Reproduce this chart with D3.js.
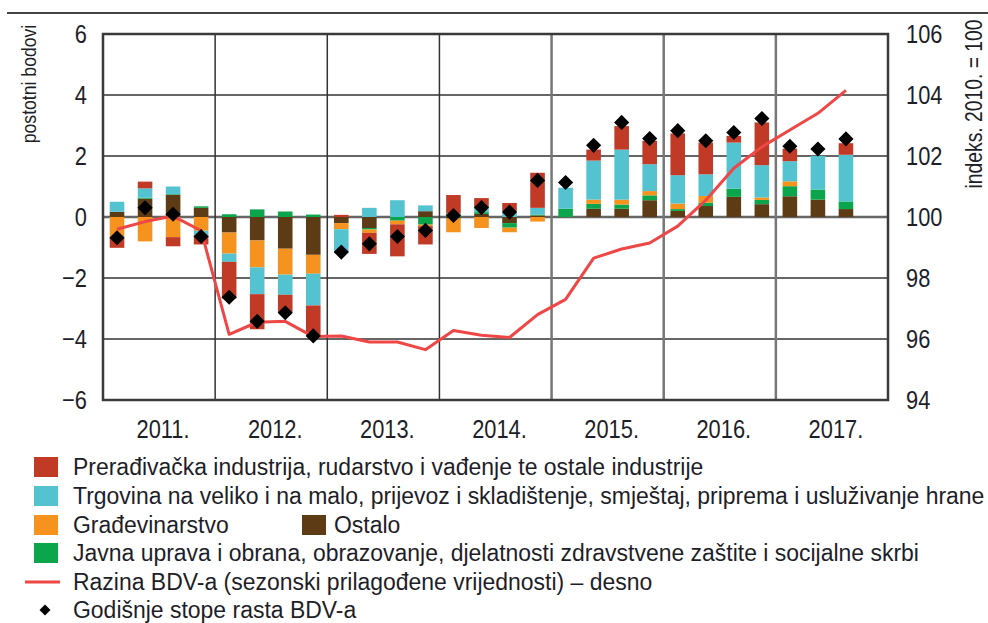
<!DOCTYPE html>
<html>
<head>
<meta charset="utf-8">
<script src="https://cdn.jsdelivr.net/npm/d3@7"></script>
<style>
	body { margin: 0; background: #fff; }
	text { font-family: "Liberation Sans Narrow", "Arial Narrow", "Liberation Sans", Arial, sans-serif; fill: #1e1e28; }
</style>
</head>
<body>
<div id="wrapper"></div>
<script>

// 1. Data

const years = ["2011.", "2012.", "2013.", "2014.", "2015.", "2016.", "2017."];

const preradivacka = [-0.33, 0.22, -0.30, -0.30, -1.20, -1.15, -0.57, -0.99, 0.07, -0.69, -1.05, -0.60, 0.60, 0.30, 0.26, 1.15, 0.00, 0.36, 0.77, 0.77, 1.37, 1.04, 0.22, 1.40, 0.41, 0.00, 0.38];
const trgovina = [0.33, 0.31, 0.25, -0.15, -0.27, -0.88, -0.66, -1.04, -0.79, 0.30, 0.55, 0.19, 0.00, 0.16, 0.20, 0.22, 0.69, 1.28, 1.64, 0.88, 0.93, 0.71, 1.51, 1.06, 0.66, 1.10, 1.53];
const gradevinarstvo = [-0.68, -0.80, -0.66, -0.45, -0.69, -0.88, -0.85, -0.62, -0.20, -0.11, -0.12, -0.05, -0.45, -0.36, -0.15, -0.15, 0.00, 0.14, 0.16, 0.14, 0.18, 0.22, 0.00, 0.08, 0.16, 0.00, 0.00];
const ostalo = [0.17, 0.60, 0.73, 0.30, -0.51, -0.77, -1.04, -1.24, -0.20, -0.36, 0.00, 0.19, -0.05, 0.10, -0.20, 0.05, 0.00, 0.27, 0.27, 0.55, 0.20, 0.36, 0.66, 0.42, 0.68, 0.57, 0.26];
const javna = [0.00, 0.03, 0.02, 0.05, 0.09, 0.25, 0.18, 0.08, 0.00, -0.05, -0.12, -0.25, 0.12, 0.06, -0.15, 0.03, 0.27, 0.16, 0.14, 0.16, 0.06, 0.11, 0.27, 0.14, 0.33, 0.33, 0.25];

// godisnje stope rasta BDV-a (romb), lijeva os
const stopeRasta = [-0.68, 0.30, 0.09, -0.64, -2.63, -3.42, -3.14, -3.90, -1.15, -0.88, -0.64, -0.44, 0.05, 0.31, 0.16, 1.20, 1.13, 2.35, 3.10, 2.57, 2.83, 2.50, 2.77, 3.23, 2.32, 2.23, 2.56];

// razina BDV-a, indeks 2010. = 100, desna os
const razinaBDV = [99.60, 99.85, 100.03, 99.55, 96.15, 96.55, 96.58, 96.08, 96.10, 95.90, 95.90, 95.65, 96.28, 96.12, 96.05, 96.80, 97.30, 98.65, 98.95, 99.15, 99.70, 100.55, 101.60, 102.30, 102.85, 103.40, 104.15];

const leftTicks = [-6, -4, -2, 0, 2, 4, 6];
const rightTicks = [94, 96, 98, 100, 102, 104, 106];

const legendLabels = {
	preradivacka: "Prerađivačka industrija, rudarstvo i vađenje te ostale industrije",
	trgovina: "Trgovina na veliko i na malo, prijevoz i skladištenje, smještaj, priprema i usluživanje hrane",
	gradevinarstvo: "Građevinarstvo",
	ostalo: "Ostalo",
	javna: "Javna uprava i obrana, obrazovanje, djelatnosti zdravstvene zaštite i socijalne skrbi",
	line: "Razina BDV-a (sezonski prilagođene vrijednosti) – desno",
	diamond: "Godišnje stope rasta BDV-a"
};

const colors = {
	preradivacka: "#c13a26",
	trgovina: "#52c3cf",
	gradevinarstvo: "#f6921e",
	ostalo: "#5c3b15",
	javna: "#0ba54b"
};

// 2. Dimensions

const dimensions = {
	width: 988,
	height: 623,
	left: 103,
	right: 888,
	top: 34,
	bottom: 400
};

// no narrow font installed, so squeeze the regular one
const narrow = 0.84;

// 3. Rows / scales

const quarters = years.flatMap(y => ["Q1", "Q2", "Q3", "Q4"].map(q => y + q));
const rows = preradivacka.map((d, i) => ({
	q: quarters[i],
	preradivacka: preradivacka[i],
	trgovina: trgovina[i],
	gradevinarstvo: gradevinarstvo[i],
	ostalo: ostalo[i],
	javna: javna[i],
	rast: stopeRasta[i],
	razina: razinaBDV[i]
}));

const keys = ["ostalo", "javna", "gradevinarstvo", "trgovina", "preradivacka"];
const series = d3.stack().keys(keys).offset(d3.stackOffsetDiverging)(rows);

const x = d3.scaleBand()
	.domain(quarters)
	.range([dimensions.left, dimensions.right])
	.padding(0);
const xYear = d3.scaleBand()
	.domain(years)
	.range([dimensions.left, dimensions.right]);
const y = d3.scaleLinear().domain([-6, 6]).range([dimensions.bottom, dimensions.top]);
const y2 = d3.scaleLinear().domain([94, 106]).range([dimensions.bottom, dimensions.top]);

const barW = x.bandwidth() * 0.52;
const cx = d => x(d) + x.bandwidth() / 2;

// 4. Static elements

const svg = d3.select("#wrapper")
	.append("svg")
	.attr("width", dimensions.width)
	.attr("height", dimensions.height);

svg.append("line")
	.attr("x1", 7).attr("x2", 988)
	.attr("y1", 13).attr("y2", 13)
	.style("stroke", "#444")
	.style("stroke-width", 2);

// grid
svg.append("g")
	.selectAll("line")
	.data(leftTicks)
	.join("line")
	.attr("x1", dimensions.left).attr("x2", dimensions.right)
	.attr("y1", d => y(d)).attr("y2", d => y(d))
	.style("stroke", d => d === 0 ? "#666" : "#333")
	.style("stroke-width", d => d === 0 ? 2.5 : 1.5);

svg.append("g")
	.selectAll("line")
	.data(years.slice(1))
	.join("line")
	.attr("x1", d => xYear(d)).attr("x2", d => xYear(d))
	.attr("y1", dimensions.top).attr("y2", dimensions.bottom)
	.style("stroke", (d, i) => i < 3 ? "#333" : "#777")
	.style("stroke-width", (d, i) => i < 3 ? 1.5 : 2.5);

// bars
svg.append("g")
	.selectAll("g")
	.data(series)
	.join("g")
	.style("fill", d => colors[d.key])
	.selectAll("rect")
	.data(d => d)
	.join("rect")
	.attr("x", d => cx(d.data.q) - barW / 2)
	.attr("width", barW)
	.attr("y", d => y(Math.max(d[0], d[1])))
	.attr("height", d => Math.abs(y(d[0]) - y(d[1])));

// frame
svg.append("rect")
	.attr("x", dimensions.left).attr("y", dimensions.top)
	.attr("width", dimensions.right - dimensions.left)
	.attr("height", dimensions.bottom - dimensions.top)
	.style("fill", "none")
	.style("stroke", "#3a3a3a")
	.style("stroke-width", 2.5);

// line
const line = d3.line()
	.x(d => cx(d.q))
	.y(d => y2(d.razina));

svg.append("path")
	.datum(rows)
	.attr("d", line)
	.style("fill", "none")
	.style("stroke", "#ef4646")
	.style("stroke-width", 3)
	.style("stroke-linejoin", "round");

// diamonds
const diamond = d3.symbol(d3.symbolSquare, 115);
svg.append("g")
	.selectAll("path")
	.data(rows)
	.join("path")
	.attr("d", diamond)
	.attr("transform", d => `translate(${cx(d.q)},${y(d.rast)}) rotate(45)`)
	.style("fill", "#000");

// axes labels
svg.append("g")
	.selectAll("text")
	.data(leftTicks)
	.join("text")
	.attr("transform", d => `translate(87,${y(d) + 9}) scale(${narrow},1)`)
	.style("text-anchor", "end")
	.style("font-size", "26px")
	.text(d => d < 0 ? "\u2212" + Math.abs(d) : d);

svg.append("g")
	.selectAll("text")
	.data(rightTicks)
	.join("text")
	.attr("transform", d => `translate(906,${y2(d) + 9}) scale(${narrow},1)`)
	.style("font-size", "26px")
	.text(d => d);

svg.append("g")
	.selectAll("text")
	.data(years)
	.join("text")
	.attr("transform", d => `translate(${xYear(d) + xYear.bandwidth() / 2 + 4},438) scale(${narrow},1)`)
	.style("text-anchor", "middle")
	.style("font-size", "26px")
	.text(d => d);

svg.append("text")
	.attr("transform", `translate(36,84) rotate(-90) scale(${narrow},1)`)
	.style("text-anchor", "middle")
	.style("font-size", "21px")
	.text("postotni bodovi");

svg.append("text")
	.attr("transform", `translate(982,104) rotate(-90) scale(${narrow},1)`)
	.style("text-anchor", "middle")
	.style("font-size", "23px")
	.text("indeks. 2010. = 100");

// 5. Legend

const legend = svg.append("g");
const rowsY = [467, 496, 525, 553, 582, 610];

const swatches = [
	{key: "preradivacka", x: 34, row: 0},
	{key: "trgovina", x: 34, row: 1},
	{key: "gradevinarstvo", x: 34, row: 2},
	{key: "ostalo", x: 302, row: 2},
	{key: "javna", x: 34, row: 3}
];

legend.selectAll("rect")
	.data(swatches)
	.join("rect")
	.attr("x", d => d.x)
	.attr("y", d => rowsY[d.row] - 10)
	.attr("width", 24)
	.attr("height", 20)
	.style("fill", d => colors[d.key]);

legend.append("line")
	.attr("x1", 25).attr("x2", 60)
	.attr("y1", rowsY[4]).attr("y2", rowsY[4])
	.style("stroke", "#ef4646")
	.style("stroke-width", 3);

legend.append("path")
	.attr("d", d3.symbol(d3.symbolSquare, 60))
	.attr("transform", `translate(45,${rowsY[5]}) rotate(45)`)
	.style("fill", "#000");

const legendTexts = [
	{key: "preradivacka", x: 73, row: 0},
	{key: "trgovina", x: 73, row: 1},
	{key: "gradevinarstvo", x: 73, row: 2},
	{key: "ostalo", x: 334, row: 2},
	{key: "javna", x: 73, row: 3},
	{key: "line", x: 73, row: 4},
	{key: "diamond", x: 73, row: 5}
];

const lt = legend.selectAll("text")
	.data(legendTexts)
	.join("text")
	.style("font-size", "23px")
	.text(d => legendLabels[d.key]);

// squeeze so the longest row has the width it has in the picture
const longest = lt.filter(d => d.key === "trgovina").node().getComputedTextLength();
const sx = Math.min(1, 912 / longest);
lt.attr("transform", d => `translate(${d.x},${rowsY[d.row] + 8}) scale(${sx},1)`);

</script>
</body>
</html>
